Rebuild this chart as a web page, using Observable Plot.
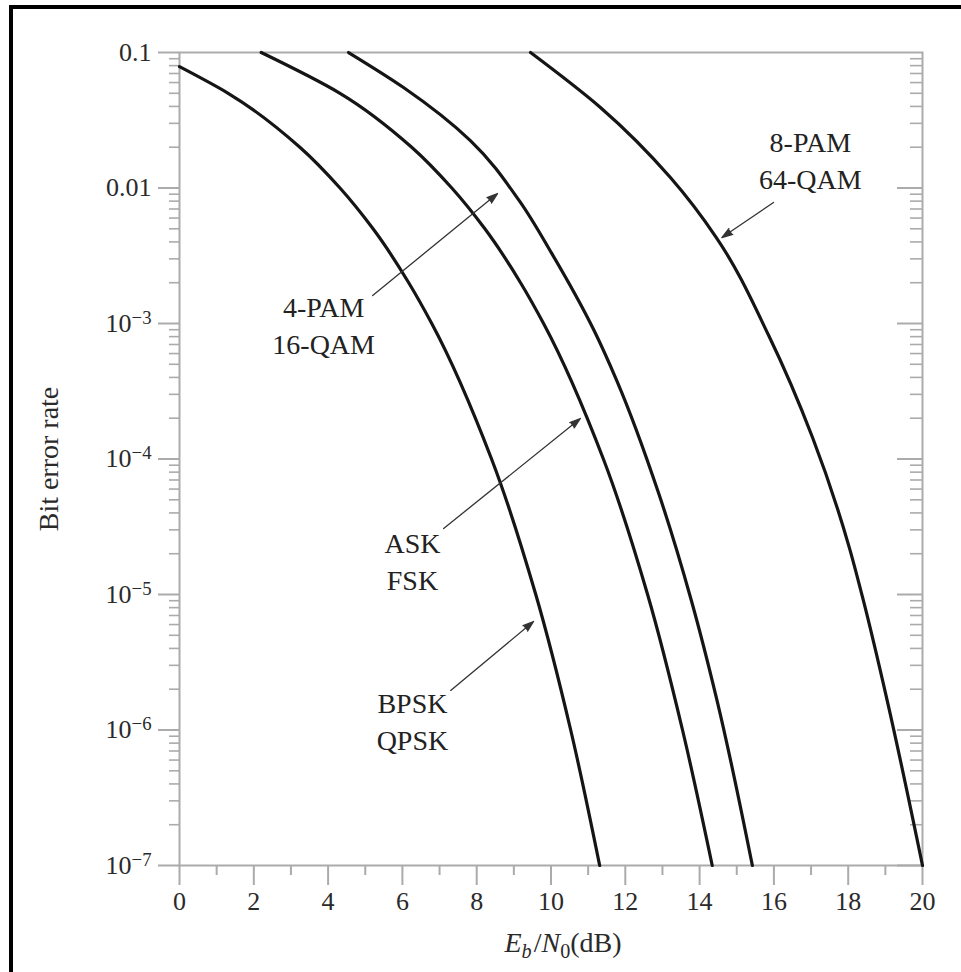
<!DOCTYPE html>
<html><head><meta charset="utf-8">
<script src="https://cdn.jsdelivr.net/npm/d3@7"></script>
<script src="https://cdn.jsdelivr.net/npm/@observablehq/plot@0.6"></script>
<style>
html,body{margin:0;padding:0;background:#fff;overflow:hidden;}
#wrap{position:relative;width:961px;height:972px;}
#border{position:absolute;left:9px;top:5px;right:0;bottom:0;border-top:4px solid #000;border-left:4px solid #000;pointer-events:none;}
</style></head><body>
<div id="wrap"><div id="chart"></div><div id="border"></div></div>
<script>
// ---- axis ticks ----
const xMajorTicks = [0, 2, 4, 6, 8, 10, 12, 14, 16, 18, 20];
const xMinorTicks = [1, 3, 5, 7, 9, 11, 13, 15, 17, 19];
const yMajorTicks = [1e-1, 1e-2, 1e-3, 1e-4, 1e-5, 1e-6, 1e-7];
const yTickLabels = ["0.1", "0.01", "10^\u22123", "10^\u22124", "10^\u22125", "10^\u22126", "10^\u22127"];
const yMinorMultipliers = [2, 3, 4, 5, 6, 7, 8, 9];
const yLabel = "Bit error rate";
const xLabelParts = ["E", "b", "/", "N", "0", "(dB)"];

// ---- curves (Eb/N0 in dB, bit error rate) ----
const bpskEbN0 = [0, 1.31, 3.24, 4.32, 5.21, 6.17, 6.79, 8.40, 9.59, 10.53, 11.31];
const bpskBer  = [0.0786, 0.05, 0.02, 0.01, 0.005, 0.002, 1e-3, 1e-4, 1e-5, 1e-6, 1e-7];
const askEbN0  = [2.2, 4.32, 6.25, 7.33, 8.22, 9.18, 9.80, 11.41, 12.60, 13.54, 14.34];
const askBer   = [0.1, 0.05, 0.02, 0.01, 0.005, 0.002, 1e-3, 1e-4, 1e-5, 1e-6, 1e-7];
const pam4EbN0 = [4.55, 6.03, 7.83, 9.14, 10.02, 11.16, 11.77, 12.90, 13.78, 14.47, 15.42];
const pam4Ber  = [0.1, 0.0552, 0.0224, 0.0081, 0.00329, 8.87e-4, 3.79e-4, 5.56e-5, 9.0e-6, 1.65e-6, 1e-7];
const pam8EbN0 = [9.45, 11.33, 13.22, 14.45, 15.86, 17.04, 18.03, 18.41, 19.05, 20.0];
const pam8Ber  = [0.1, 0.0393, 0.0119, 0.00431, 8.15e-4, 1.44e-4, 2.22e-5, 9.0e-6, 1.65e-6, 1e-7];
const seriesNames = ["BPSK/QPSK", "ASK/FSK", "4-PAM/16-QAM", "8-PAM/64-QAM"];

// ---- annotations ----
const annoText = ["8-PAM\n64-QAM", "4-PAM\n16-QAM", "ASK\nFSK", "BPSK\nQPSK"];
const annoX = [16.98, 3.88, 6.27, 6.27];
const annoY = [0.01637, 1.0e-3, 1.81e-5, 1.194e-6];
const arrowX1 = [15.99, 5.20, 7.11, 7.30];
const arrowY1 = [0.00782, 0.00161, 3.07e-5, 1.96e-6];
const arrowX2 = [14.60, 8.56, 10.79, 9.53];
const arrowY2 = [0.00431, 0.0091, 1.99e-4, 6.32e-6];

// ---- build tables ----
const seriesX = [bpskEbN0, askEbN0, pam4EbN0, pam8EbN0];
const seriesY = [bpskBer, askBer, pam4Ber, pam8Ber];
const curves = seriesNames.flatMap((name, s) => seriesX[s].map((x, i) => ({series: name, x, y: seriesY[s][i]})));
const yMinorTicks = yMajorTicks.slice(1).flatMap(d => yMinorMultipliers.map(m => m * d));
const annos = annoText.map((t, i) => ({t, x: annoX[i], y: annoY[i]}));
const arrows = arrowX1.map((x1, i) => ({x1, y1: arrowY1[i], x2: arrowX2[i], y2: arrowY2[i]}));

const W = 961, H = 972, mL = 179, mR = 39, mT = 52, mB = 107;
const frameW = W - mL - mR;
const gray = "#ababab";
const serif = "'Liberation Serif', 'Times New Roman', 'DejaVu Serif', serif";
const noLabel = () => "";

const chart = Plot.plot({
  width: W, height: H,
  marginLeft: mL, marginRight: mR, marginTop: mT, marginBottom: mB,
  style: {fontFamily: serif, fontSize: "26px", background: "#fff", color: "#2a2a2a"},
  x: {domain: [0, 20]},
  y: {type: "log", domain: [1e-7, 0.1]},
  marks: [
    Plot.frame({stroke: gray, strokeWidth: 2}),
    Plot.axisX({ticks: xMajorTicks, tickSize: 20, tickPadding: 6, stroke: gray, strokeWidth: 2, fill: "#2a2a2a",
      label: xLabelParts.join(""), labelAnchor: "center", labelOffset: 86, labelArrow: "none"}),
    Plot.axisX({ticks: xMinorTicks, tickSize: 10, stroke: gray, strokeWidth: 2, tickFormat: noLabel, label: null}),
    Plot.axisY({ticks: yMajorTicks, tickSize: 21, tickPadding: 7, stroke: gray, strokeWidth: 2, fill: "#2a2a2a",
      tickFormat: d => yTickLabels[yMajorTicks.indexOf(d)],
      label: yLabel, labelAnchor: "center", labelOffset: 141, labelArrow: "none"}),
    Plot.axisY({ticks: yMinorTicks, tickSize: 10, stroke: gray, strokeWidth: 1.6, tickFormat: noLabel, label: null}),
    Plot.tickY(yMajorTicks.slice(1), {y: d => d, insetLeft: frameW - 25, stroke: gray, strokeWidth: 2}),
    Plot.tickY(yMinorTicks, {y: d => d, insetLeft: frameW - 12, stroke: gray, strokeWidth: 1.6}),
    Plot.line(curves, {x: "x", y: "y", z: "series", curve: "monotone-y", stroke: "#151515", strokeWidth: 3.2}),
    Plot.text(annos, {x: "x", y: "y", text: "t", lineAnchor: "middle", fontSize: 28, lineHeight: 1.32, fill: "#222"}),
    Plot.arrow(arrows, {x1: "x1", y1: "y1", x2: "x2", y2: "y2", stroke: "#333", fill: "#333", strokeWidth: 1.3, headLength: 13, headAngle: 36})
  ]
});

const svg = chart.tagName.toLowerCase() === "svg" ? chart : chart.querySelector("svg");
// superscripts on the y tick labels
d3.select(svg).selectAll('g[aria-label="y-axis tick label"] text').each(function() {
  const m = this.textContent.match(/^(\d+)\^(.+)$/);
  if (!m) return;
  const t = d3.select(this);
  this.textContent = "";
  t.append("tspan").text(m[1]);
  t.append("tspan").attr("dy", "-0.42em").attr("font-size", "0.72em").text(m[2]);
});
// x label with italics and subscripts
const xl = svg.querySelector('g[aria-label="x-axis label"] text');
if (xl) {
  xl.textContent = "";
  const sel = d3.select(xl).attr("font-size", 28);
  sel.attr("transform", (xl.getAttribute("transform") || "") + " translate(12,0)");
  sel.append("tspan").attr("font-style", "italic").text(xLabelParts[0]);
  sel.append("tspan").attr("font-style", "italic").attr("font-size", "0.72em").attr("dy", 6).text(xLabelParts[1]);
  sel.append("tspan").attr("dy", -6).attr("dx", 2).text(xLabelParts[2]);
  sel.append("tspan").attr("font-style", "italic").text(xLabelParts[3]);
  sel.append("tspan").attr("font-size", "0.72em").attr("dy", 6).text(xLabelParts[4]);
  sel.append("tspan").attr("dy", -6).text(xLabelParts[5]);
}
const yl = svg.querySelector('g[aria-label="y-axis label"] text');
if (yl) { yl.textContent = yLabel; yl.setAttribute("font-size", 28); }

document.getElementById("chart").appendChild(chart);
</script></body></html>
